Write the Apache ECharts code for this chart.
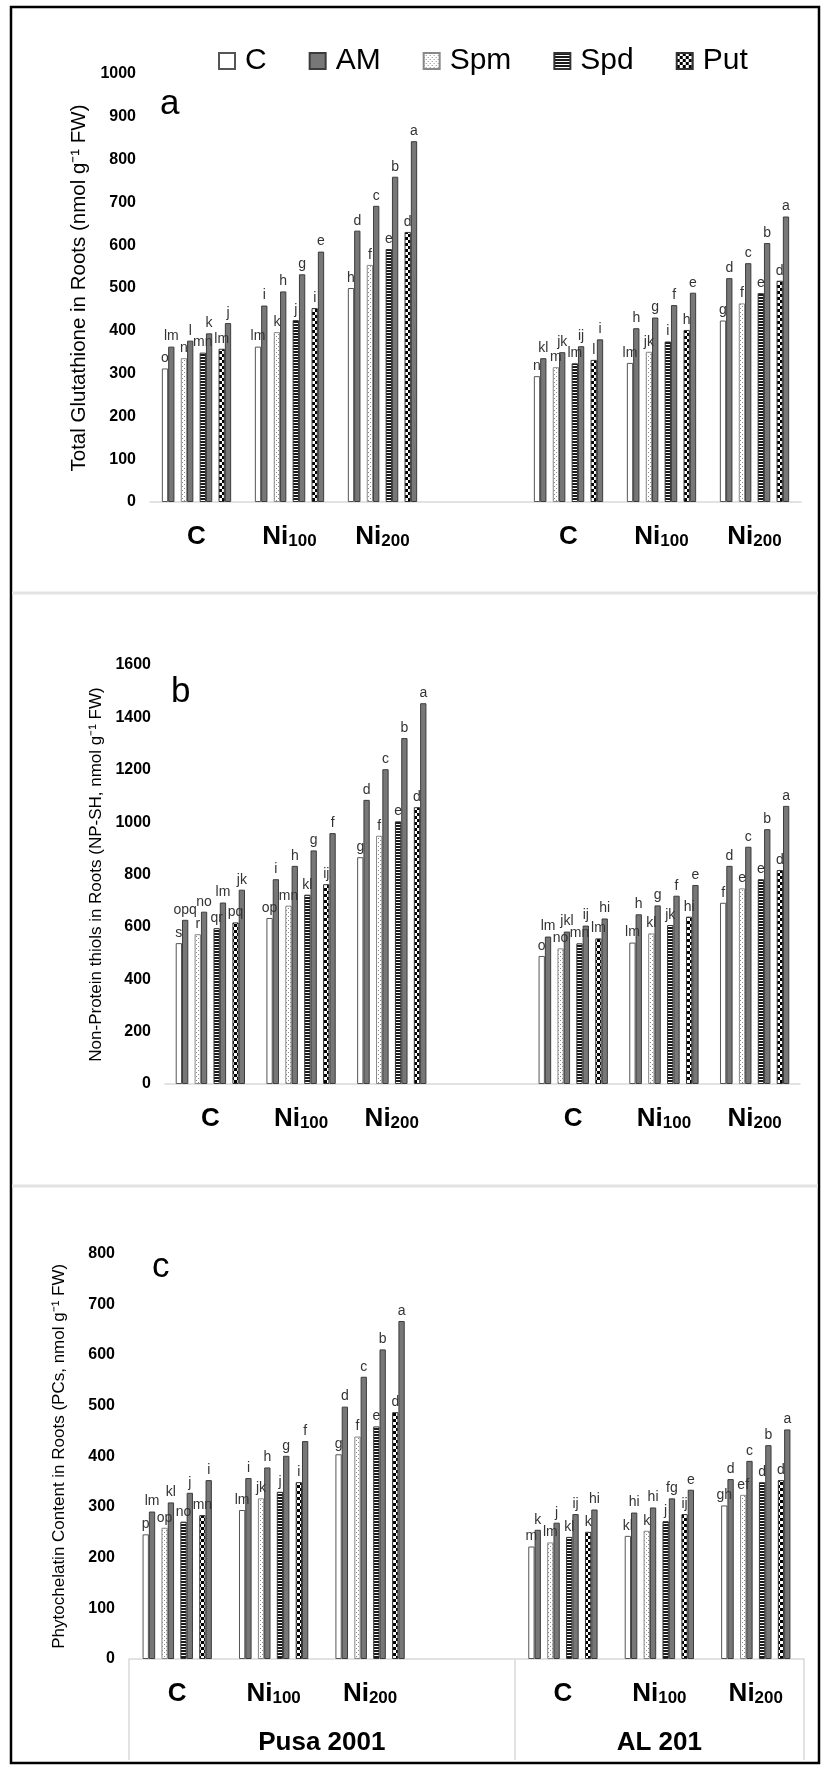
<!DOCTYPE html>
<html><head><meta charset="utf-8">
<script src="https://cdn.jsdelivr.net/npm/echarts@6/dist/echarts.min.js"></script>
<style>html,body{margin:0;padding:0;background:#fff}#chart{width:824px;height:1769px}</style>
</head><body><div id="chart"></div>
<script>
// ---------- categories / tick labels ----------
const categories = ['P-C','P-Ni100','P-Ni200','gap','A-C','A-Ni100','A-Ni200'];
const tickLabels = ['C','Ni|100','Ni|200','','C','Ni|100','Ni|200'];
const cultivars = ['Pusa 2001','AL 201'];
const legendNames = ['C','AM','Spm','Spd','Put'];
const seriesNames = ['C','AM','Spm','AM','Spd','AM','Put','AM'];

// ---------- panel a : Total glutathione ----------
const gshC     = [312,363,500,'-',294,325,424];
const gshCAM   = [363,459,634,'-',336,406,523];
const gshSpm   = [336,397,554,'-',315,351,464];
const gshSpmAM = [377,492,692,'-',350,431,558];
const gshSpd   = [349,425,591,'-',324,375,488];
const gshSpdAM = [394,532,760,'-',364,460,605];
const gshPut   = [358,453,631,'-',332,402,517];
const gshPutAM = [418,585,843,'-',380,489,667];
const gshLetC     = ['o','lm','h','','n','lm','g'];
const gshLetCAM   = ['lm','i','d','','kl','h','d'];
const gshLetSpm   = ['n','k','f','','m','jk','f'];
const gshLetSpmAM = ['l','h','c','','jk','g','c'];
const gshLetSpd   = ['mn','j','e','','lm','i','e'];
const gshLetSpdAM = ['k','g','b','','ij','f','b'];
const gshLetPut   = ['lm','i','d','','l','h','d'];
const gshLetPutAM = ['j','e','a','','i','e','a'];

// ---------- panel b : Non-protein thiols ----------
const npC     = [538,634,866,'-',489,540,692];
const npCAM   = [627,782,1085,'-',563,648,833];
const npSpm   = [572,681,948,'-',518,575,747];
const npSpmAM = [658,833,1202,'-',582,682,906];
const npSpd   = [595,723,1003,'-',537,607,782];
const npSpdAM = [693,892,1321,'-',605,719,973];
const npPut   = [617,763,1057,'-',556,639,817];
const npPutAM = [742,958,1454,'-',632,760,1062];
const npLetC     = ['s','op','g','','o','lm','f'];
const npLetCAM   = ['opq','i','d','','lm','h','d'];
const npLetSpm   = ['r','mn','f','','no','kl','e'];
const npLetSpmAM = ['no','h','c','','jkl','g','c'];
const npLetSpd   = ['qr','kl','e','','mn','jk','e'];
const npLetSpdAM = ['lm','g','b','','ij','f','b'];
const npLetPut   = ['pq','ij','d','','lm','hi','d'];
const npLetPutAM = ['jk','f','a','','hi','e','a'];

// ---------- panel c : Phytochelatins ----------
const pcC     = [246,294,404,'-',222,243,303];
const pcCAM   = [291,357,498,'-',255,289,355];
const pcSpm   = [259,317,439,'-',230,253,324];
const pcSpmAM = [309,378,557,'-',269,299,391];
const pcSpd   = [271,330,459,'-',241,272,349];
const pcSpdAM = [328,401,611,'-',286,317,422];
const pcPut   = [284,349,487,'-',251,286,353];
const pcPutAM = [353,430,667,'-',295,334,453];
const pcLetC     = ['p','lm','g','','m','kl','gh'];
const pcLetCAM   = ['lm','i','d','','k','hi','d'];
const pcLetSpm   = ['op','jk','f','','lm','k','ef'];
const pcLetSpmAM = ['kl','h','c','','j','hi','c'];
const pcLetSpd   = ['no','j','e','','kl','j','d'];
const pcLetSpdAM = ['j','g','b','','ij','fg','b'];
const pcLetPut   = ['mn','i','d','','k','ij','d'];
const pcLetPutAM = ['i','f','a','','hi','e','a'];

// ---------- styling ----------
const FONT = '"Liberation Sans", Arial, Helvetica, sans-serif';
const BW = 6.3;
function pat(w, h, draw) {
  const c = document.createElement('canvas'); c.width = w; c.height = h;
  const x = c.getContext('2d'); x.fillStyle = '#fff'; x.fillRect(0,0,w,h); draw(x);
  return {image: c, repeat: 'repeat'};
}
const dotPat = pat(4, 4, x => { x.fillStyle = '#8a8a8a'; x.fillRect(0,0,1,1); x.fillRect(2,2,1,1); });
const stripePat = pat(4, 3, x => { x.fillStyle = '#1a1a1a'; x.fillRect(0,0,4,2); });
const checkPat = pat(6, 6, x => { x.fillStyle = '#000'; x.fillRect(0,0,3,3); x.fillRect(3,3,3,3); });
const styles = {
  C:   {color: '#ffffff', borderColor: '#555', borderWidth: 1},
  AM:  {color: '#777777', borderColor: '#3c3c3c', borderWidth: 1},
  Spm: {color: dotPat, borderColor: '#888', borderWidth: 1},
  Spd: {color: stripePat, borderColor: '#333', borderWidth: 1},
  Put: {color: checkPat, borderColor: '#333', borderWidth: 1}
};

const panels = [
  {vals: [gshC,gshCAM,gshSpm,gshSpmAM,gshSpd,gshSpdAM,gshPut,gshPutAM],
   lets: [gshLetC,gshLetCAM,gshLetSpm,gshLetSpmAM,gshLetSpd,gshLetSpdAM,gshLetPut,gshLetPutAM]},
  {vals: [npC,npCAM,npSpm,npSpmAM,npSpd,npSpdAM,npPut,npPutAM],
   lets: [npLetC,npLetCAM,npLetSpm,npLetSpmAM,npLetSpd,npLetSpdAM,npLetPut,npLetPutAM]},
  {vals: [pcC,pcCAM,pcSpm,pcSpmAM,pcSpd,pcSpdAM,pcPut,pcPutAM],
   lets: [pcLetC,pcLetCAM,pcLetSpm,pcLetSpmAM,pcLetSpd,pcLetSpdAM,pcLetPut,pcLetPutAM]}
];

const series = [];
panels.forEach((p, g) => {
  p.vals.forEach((arr, i) => {
    if (i > 0 && i % 2 === 0) {
      series.push({type: 'bar', name: '_gap' + g + '_' + i, xAxisIndex: g, yAxisIndex: g,
        barWidth: BW, barGap: '0%', silent: true, data: categories.map(() => '-')});
    }
    const lets = p.lets[i];
    series.push({
      type: 'bar', name: seriesNames[i], xAxisIndex: g, yAxisIndex: g,
      barWidth: BW, barGap: '0%', data: arr,
      itemStyle: styles[seriesNames[i]],
      label: {show: true, position: 'top', distance: 3, fontSize: 14, color: '#333',
        fontFamily: FONT, formatter: q => lets[q.dataIndex]}
    });
  });
});

const grids = [
  {left: 150, top: 74, width: 651, height: 428},
  {left: 165, top: 665, width: 635, height: 419},
  {left: 129, top: 1253.6, width: 675, height: 405.4}
];
const yConf = [
  {max: 1000, interval: 100, name: 'Total Glutathione in Roots (nmol g\u207B\u00B9 FW)', fs: 20.5, gap: 57},
  {max: 1600, interval: 200, name: 'Non-Protein thiols in Roots (NP-SH, nmol g\u207B\u00B9 FW)', fs: 17, gap: 59},
  {max: 800, interval: 100, name: 'Phytochelatin Content in Roots (PCs, nmol g\u207B\u00B9 FW)', fs: 17, gap: 61}
];

const rich = {
  m: {fontSize: 26, fontWeight: 'bold', fontFamily: FONT, color: '#000', lineHeight: 26, padding: [0,0,4,0], verticalAlign: 'top'},
  s: {fontSize: 17, fontWeight: 'bold', fontFamily: FONT, color: '#000', lineHeight: 17, verticalAlign: 'bottom'}
};
const xAxes = grids.map((gr, g) => ({
  type: 'category', gridIndex: g, data: categories,
  axisLine: {show: true, lineStyle: {color: '#d9d9d9', width: 1.5}},
  axisTick: {show: false},
  axisLabel: {interval: 0, margin: 22, rich: rich,
    formatter: (v, i) => { const t = tickLabels[i]; if (!t) return ''; const s = t.split('|');
      return s[1] ? '{m|' + s[0] + '}{s|' + s[1] + '}' : '{m|' + s[0] + '}'; }}
}));
xAxes.push({
  type: 'value', gridIndex: 2, min: 0, max: categories.length, position: 'bottom',
  axisLine: {show: false}, splitLine: {show: false},
  axisTick: {show: true, customValues: [0, 4, 7], length: 101, lineStyle: {color: '#d9d9d9', width: 1.5}},
  axisLabel: {customValues: [2, 5.5], margin: 71, fontSize: 26, fontWeight: 'bold', color: '#000', fontFamily: FONT,
    formatter: v => (v < 4 ? cultivars[0] : cultivars[1])}
});
const yAxes = yConf.map((c, g) => ({
  type: 'value', gridIndex: g, min: 0, max: c.max, interval: c.interval,
  axisLine: {show: false}, axisTick: {show: false}, splitLine: {show: false},
  axisLabel: {fontSize: 16, fontWeight: 'bold', color: '#000', margin: 14, fontFamily: FONT,
    formatter: v => String(v)},
  name: c.name, nameLocation: 'middle', nameGap: c.gap,
  nameTextStyle: {fontSize: c.fs, color: '#000', fontFamily: FONT}
}));

const chart = echarts.init(document.getElementById('chart'), null, {renderer: 'canvas'});
chart.setOption({
  backgroundColor: '#fff',
  animation: false,
  title: [
    {text: 'a', left: 155, top: 82, textStyle: {fontSize: 35, fontWeight: 'normal', color: '#000', fontFamily: FONT}},
    {text: 'b', left: 166, top: 670, textStyle: {fontSize: 35, fontWeight: 'normal', color: '#000', fontFamily: FONT}},
    {text: 'c', left: 147, top: 1245, textStyle: {fontSize: 35, fontWeight: 'normal', color: '#000', fontFamily: FONT}}
  ],
  legend: {
    data: legendNames, left: 213, top: 41, itemWidth: 16, itemHeight: 16, itemGap: 42,
    icon: 'rect',
    textStyle: {fontSize: 30, color: '#000', fontFamily: FONT, padding: [0,0,0,5]}
  },
  grid: grids,
  xAxis: xAxes,
  yAxis: yAxes,
  series: series,
  graphic: [
    {type: 'rect', shape: {x: 11, y: 7, width: 808, height: 1756}, style: {fill: 'none', stroke: '#000', lineWidth: 2.5}, silent: true},
    {type: 'line', shape: {x1: 12, y1: 593, x2: 818, y2: 593}, style: {stroke: '#e3e3e3', lineWidth: 3}, silent: true},
    {type: 'line', shape: {x1: 12, y1: 1186, x2: 818, y2: 1186}, style: {stroke: '#e3e3e3', lineWidth: 3}, silent: true}
  ]
});
</script></body></html>
